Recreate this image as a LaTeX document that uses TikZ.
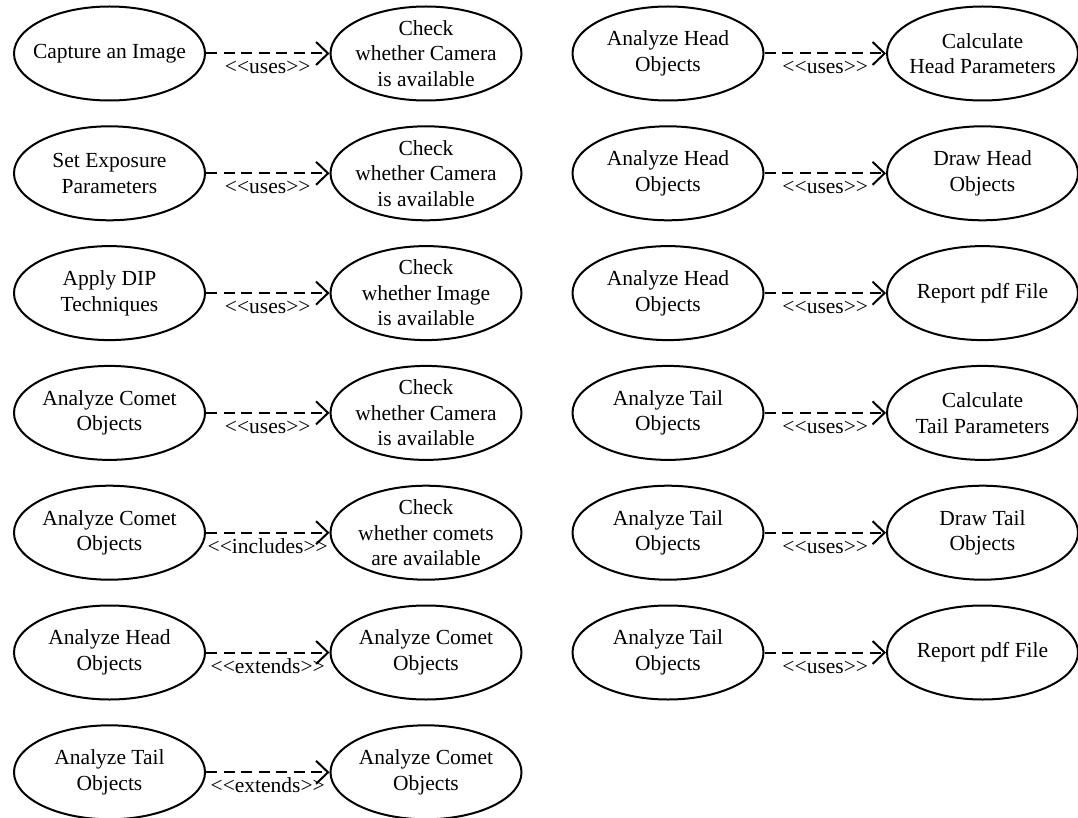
\documentclass[tikz,border=0pt]{standalone}
\usepackage{fontspec}
\setmainfont{Liberation Serif}
\usetikzlibrary{shapes.geometric,arrows.meta}

\tikzset{
  usecase/.style={draw, ellipse, line width=2pt, minimum width=191pt,
    minimum height=94pt, inner sep=0pt},
  uctext/.style={align=center, inner sep=0pt,
    font=\fontsize{21.5}{25.5}\selectfont},
  dep/.style={line width=2pt, dash pattern=on 11pt off 6.5pt,
    -{Straight Barb[length=12pt, width=23pt, line width=2pt]}},
  stereo/.style={midway, anchor=base, yshift=-20.5pt, inner sep=0pt,
    font=\fontsize{21.5}{25.5}\selectfont},
}

\begin{document}
\begin{tikzpicture}[x=1pt, y=-1pt]
\useasboundingbox (0,0) rectangle (1078,818);

% left column
\node[usecase, label={[uctext]center:Capture an Image}] (l1a) at (109.5,53.5) {};
\node[usecase, label={[uctext]center:Check\\whether Camera\\is available}] (l1b) at (426,53.5) {};
\node[usecase, label={[uctext]center:Set Exposure\\Parameters}] (l2a) at (109.5,173.3) {};
\node[usecase, label={[uctext]center:Check\\whether Camera\\is available}] (l2b) at (426,173.3) {};
\node[usecase, label={[uctext]center:Apply DIP\\Techniques}] (l3a) at (109.5,293.1) {};
\node[usecase, label={[uctext]center:Check\\whether Image\\is available}] (l3b) at (426,293.1) {};
\node[usecase, label={[uctext]center:Analyze Comet\\Objects}] (l4a) at (109.5,412.9) {};
\node[usecase, label={[uctext]center:Check\\whether Camera\\is available}] (l4b) at (426,412.9) {};
\node[usecase, label={[uctext]center:Analyze Comet\\Objects}] (l5a) at (109.5,532.7) {};
\node[usecase, label={[uctext]center:Check\\whether comets\\are available}] (l5b) at (426,532.7) {};
\node[usecase, label={[uctext]center:Analyze Head\\Objects}] (l6a) at (109.5,652.5) {};
\node[usecase, label={[uctext]center:Analyze Comet\\Objects}] (l6b) at (426,652.5) {};
\node[usecase, label={[uctext]center:Analyze Tail\\Objects}] (l7a) at (109.5,772.3) {};
\node[usecase, label={[uctext]center:Analyze Comet\\Objects}] (l7b) at (426,772.3) {};

\draw[dep] (l1a) -- (l1b) node[stereo] {<{}<uses>{}>};
\draw[dep] (l2a) -- (l2b) node[stereo] {<{}<uses>{}>};
\draw[dep] (l3a) -- (l3b) node[stereo] {<{}<uses>{}>};
\draw[dep] (l4a) -- (l4b) node[stereo] {<{}<uses>{}>};
\draw[dep] (l5a) -- (l5b) node[stereo] {<{}<includes>{}>};
\draw[dep] (l6a) -- (l6b) node[stereo] {<{}<extends>{}>};
\draw[dep] (l7a) -- (l7b) node[stereo] {<{}<extends>{}>};

% right column
\node[usecase, label={[uctext]center:Analyze Head\\Objects}] (r1a) at (668,53.5) {};
\node[usecase, label={[uctext]center:Calculate\\Head Parameters}] (r1b) at (982.5,53.5) {};
\node[usecase, label={[uctext]center:Analyze Head\\Objects}] (r2a) at (668,173.3) {};
\node[usecase, label={[uctext]center:Draw Head\\Objects}] (r2b) at (982.5,173.3) {};
\node[usecase, label={[uctext]center:Analyze Head\\Objects}] (r3a) at (668,293.1) {};
\node[usecase, label={[uctext]center:Report pdf File}] (r3b) at (982.5,293.1) {};
\node[usecase, label={[uctext]center:Analyze Tail\\Objects}] (r4a) at (668,412.9) {};
\node[usecase, label={[uctext]center:Calculate\\Tail Parameters}] (r4b) at (982.5,412.9) {};
\node[usecase, label={[uctext]center:Analyze Tail\\Objects}] (r5a) at (668,532.7) {};
\node[usecase, label={[uctext]center:Draw Tail\\Objects}] (r5b) at (982.5,532.7) {};
\node[usecase, label={[uctext]center:Analyze Tail\\Objects}] (r6a) at (668,652.5) {};
\node[usecase, label={[uctext]center:Report pdf File}] (r6b) at (982.5,652.5) {};

\draw[dep] (r1a) -- (r1b) node[stereo] {<{}<uses>{}>};
\draw[dep] (r2a) -- (r2b) node[stereo] {<{}<uses>{}>};
\draw[dep] (r3a) -- (r3b) node[stereo] {<{}<uses>{}>};
\draw[dep] (r4a) -- (r4b) node[stereo] {<{}<uses>{}>};
\draw[dep] (r5a) -- (r5b) node[stereo] {<{}<uses>{}>};
\draw[dep] (r6a) -- (r6b) node[stereo] {<{}<uses>{}>};
\end{tikzpicture}
\end{document}
